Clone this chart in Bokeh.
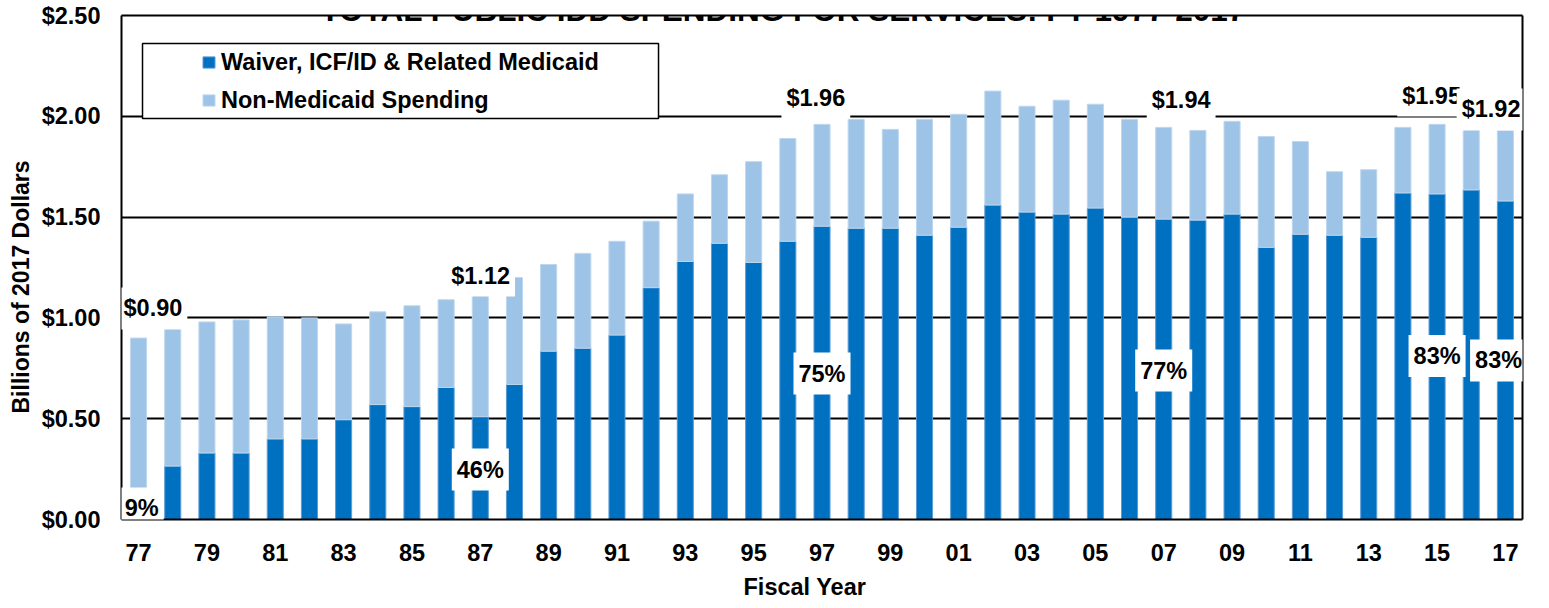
import math
from bokeh.plotting import figure
from bokeh.models import (ColumnDataSource, FixedTicker, Range1d, Label, Legend, LegendItem,
                          BoxAnnotation, LinearAxis, Title)
from bokeh.embed import file_html
from bokeh.resources import INLINE

# ---------------- data ----------------
years = list(range(1977, 2018))
total_spending = [0.90, 0.96, 0.98, 0.99, 1.005, 1.00, 0.97, 1.03, 1.06, 1.09,
                  1.12, 1.20, 1.265, 1.32, 1.38, 1.48, 1.615, 1.71, 1.775, 1.89,
                  1.96, 1.985, 1.935, 1.985, 2.01, 2.125, 2.05, 2.08, 2.06, 1.985,
                  1.945, 1.93, 1.975, 1.90, 1.875, 1.725, 1.735, 1.945, 1.96, 1.965,
                  1.93]
medicaid_spending = [0.08, 0.265, 0.33, 0.33, 0.40, 0.40, 0.495, 0.57, 0.56, 0.655,
                     0.51, 0.67, 0.835, 0.85, 0.915, 1.15, 1.28, 1.37, 1.275, 1.38,
                     1.455, 1.445, 1.445, 1.41, 1.45, 1.56, 1.525, 1.515, 1.545, 1.50,
                     1.49, 1.485, 1.515, 1.35, 1.415, 1.41, 1.40, 1.62, 1.615, 1.635,
                     1.58]
series_names = ["Waiver, ICF/ID & Related Medicaid", "Non-Medicaid Spending"]

x_tick_years = list(range(1977, 2018, 2))
x_tick_labels = ["77", "79", "81", "83", "85", "87", "89", "91", "93", "95", "97",
                 "99", "01", "03", "05", "07", "09", "11", "13", "15", "17"]
y_tick_values = [0.0, 0.5, 1.0, 1.5, 2.0, 2.5]
y_tick_labels = ["$0.00", "$0.50", "$1.00", "$1.50", "$2.00", "$2.50"]

# annotation texts (text, x, y)
value_notes = [("$0.90", 1977.42, 1.047), ("$1.12", 1987.01, 1.210),
               ("$1.96", 1996.82, 2.093), ("$1.94", 2007.51, 2.083),
               ("$1.95", 2014.84, 2.103), ("$1.92", 2016.58, 2.034)]
share_notes = [("9%", 1977.09, 0.055), ("46%", 1987.0, 0.248), ("75%", 1997.0, 0.724),
               ("77%", 2007.0, 0.739), ("83%", 2015.0, 0.811), ("83%", 2016.8, 0.789)]

title_text = "TOTAL PUBLIC IDD SPENDING FOR SERVICES: FY 1977-2017"
x_title = "Fiscal Year"
y_title = "Billions of 2017 Dollars"

# ---------------- styles ----------------
DARK = "#0070C0"
LIGHT = "#9DC3E6"
FONT = "Liberation Sans"
FS = "23.5px"

non_medicaid = [round(t - m, 4) for t, m in zip(total_spending, medicaid_spending)]
src = ColumnDataSource(dict(year=years, med=medicaid_spending, non=non_medicaid))

p = figure(width=1549, height=608, output_backend="svg", toolbar_location=None,
           x_range=Range1d(1976.5, 2017.5), y_range=Range1d(0, 2.5),
           min_border_left=121, min_border_right=27, min_border_top=15,
           min_border_bottom=89)
p.outline_line_color = None
p.background_fill_color = "white"
p.border_fill_color = "white"

rs = p.vbar_stack(["med", "non"], x="year", width=0.47, source=src,
                  fill_color=[DARK, LIGHT], line_color=["#5B9BD5", "#BDD7EE"],
                  line_width=1)

# axes
xa = p.xaxis[0]
xa.ticker = FixedTicker(ticks=x_tick_years)
xa.major_label_overrides = {y: l for y, l in zip(x_tick_years, x_tick_labels)}
xa.major_tick_in = 0
xa.major_tick_out = 0
xa.minor_tick_in = 0
xa.minor_tick_out = 0
xa.axis_line_color = "black"
xa.axis_line_width = 2
xa.major_label_standoff = 24
xa.major_label_text_font = FONT
xa.major_label_text_font_style = "bold"
xa.major_label_text_font_size = FS
xa.major_label_text_color = "black"

ya = p.yaxis[0]
ya.ticker = FixedTicker(ticks=y_tick_values)
ya.major_label_overrides = {v: l for v, l in zip(y_tick_values, y_tick_labels)}
ya.major_tick_in = 0
ya.major_tick_out = 0
ya.minor_tick_in = 0
ya.minor_tick_out = 0
ya.axis_line_color = "black"
ya.axis_line_width = 2
ya.major_label_standoff = 21
ya.major_label_text_font = FONT
ya.major_label_text_font_style = "bold"
ya.major_label_text_font_size = FS
ya.major_label_text_color = "black"

for side in ("right", "above"):
    ax = LinearAxis(major_label_text_font_size="0px", major_tick_in=0, major_tick_out=0,
                    minor_tick_in=0, minor_tick_out=0, axis_line_color="black",
                    axis_line_width=2, ticker=FixedTicker(ticks=[]))
    p.add_layout(ax, side)

p.xgrid.visible = False
p.ygrid.ticker = FixedTicker(ticks=y_tick_values)
p.ygrid.grid_line_color = "black"
p.ygrid.grid_line_width = 2

# axis titles placed in the side panels
p.add_layout(Title(text=y_title, align="left", offset=106, standoff=10,
                   text_font=FONT, text_font_style="bold", text_font_size="23px",
                   text_color="black"), "left")
p.add_layout(Title(text=x_title, align="left", offset=622, standoff=16,
                   text_font=FONT, text_font_style="bold", text_font_size=FS,
                   text_color="black"), "below")

# legend box + legend
box = BoxAnnotation(left=1977.115, right=1992.216, bottom=1.989, top=2.361,
                    fill_color="white", fill_alpha=1.0, line_color="black",
                    line_width=1.5, line_alpha=1.0)
p.add_layout(box)
legend = Legend(items=[LegendItem(label=series_names[0], renderers=[rs[0]]),
                       LegendItem(label=series_names[1], renderers=[rs[1]])],
                location=(80, 404), padding=0, spacing=8, margin=0,
                label_height=30, glyph_height=14, glyph_width=15, label_standoff=5,
                background_fill_alpha=0, border_line_color=None,
                label_text_font=FONT, label_text_font_style="bold",
                label_text_font_size=FS, label_text_color="black")
p.add_layout(legend)

# value / share labels with white boxes
for txt, x, y in value_notes + share_notes:
    p.add_layout(Label(x=x, y=y, text=txt, text_align="center", text_baseline="middle",
                       text_font=FONT, text_font_style="bold", text_font_size=FS,
                       text_color="black", background_fill_color="white",
                       background_fill_alpha=1.0, padding=(5, 8)))

# chart title (cropped at the top, as in the source image)
p.add_layout(Label(x=1995.87, y=2.525, text=title_text, text_align="center",
                   text_baseline="alphabetic", text_font=FONT, text_font_style="bold",
                   text_font_size="31.5px", text_color="black"))

open("out.html", "w").write(file_html(p, INLINE))
